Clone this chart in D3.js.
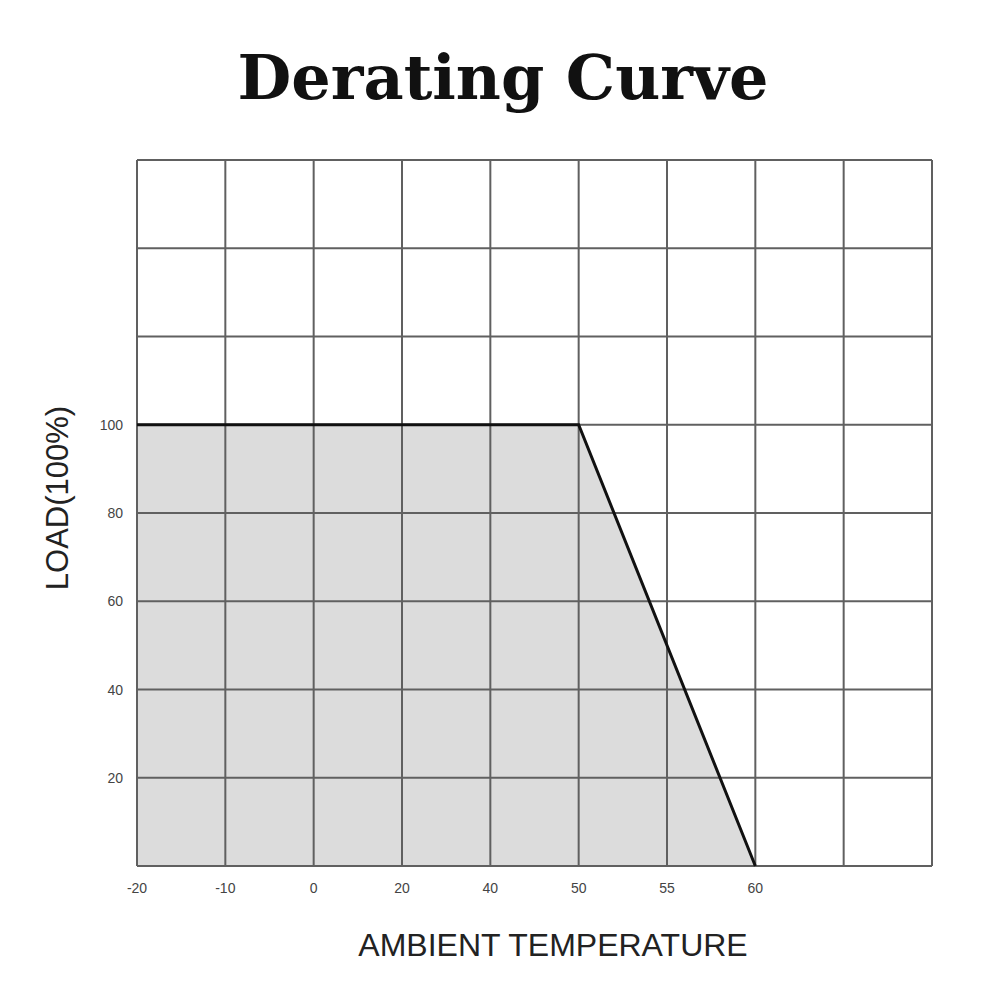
<!DOCTYPE html>
<html><head><meta charset="utf-8">
<script src="https://cdn.jsdelivr.net/npm/d3@7"></script>
<style>body{margin:0;background:#fff}</style>
</head><body>
<svg id="c" width="1000" height="1000"></svg>
<script>
const xTickLabels = ["-20","-10","0","20","40","50","55","60"];
const xGridCount = 10;
const yTicks = [20,40,60,80,100];
const yMax = 160;
const curveTemp = ["-20","50","60"];
const curveLoad = [100,100,0];

const svg = d3.select("#c");
const x = d3.scaleLinear().domain([0, xGridCount-1]).range([137, 932]);
const y = d3.scaleLinear().domain([0, yMax]).range([866, 160]);
const xi = t => x(xTickLabels.indexOf(t));

const pts = curveTemp.map((t,i)=>({t, v:curveLoad[i]}));
svg.append("path").datum(pts)
  .attr("d", d3.area().x(d=>xi(d.t)).y0(y(0)).y1(d=>y(d.v)))
  .attr("fill","#dcdcdc");

const grid = svg.append("g").attr("stroke","#606060").attr("stroke-width",2);
grid.selectAll("line.v").data(d3.range(xGridCount)).join("line")
  .attr("x1",d=>x(d)).attr("x2",d=>x(d)).attr("y1",y(0)).attr("y2",y(yMax));
grid.selectAll("line.h").data(d3.range(0,yMax+1,20)).join("line")
  .attr("y1",d=>y(d)).attr("y2",d=>y(d)).attr("x1",x(0)).attr("x2",x(xGridCount-1));

svg.append("path").datum(pts)
  .attr("d", d3.line().x(d=>xi(d.t)).y(d=>y(d.v)))
  .attr("fill","none").attr("stroke","#111").attr("stroke-width",3);

svg.append("g").selectAll("text").data(xTickLabels).join("text")
  .attr("x",(d,i)=>x(i)).attr("y",893).attr("text-anchor","middle")
  .attr("font-family","Liberation Sans, Arial, sans-serif").attr("font-size",14).attr("fill","#444")
  .text(d=>d);
svg.append("g").selectAll("text").data(yTicks).join("text")
  .attr("x",123).attr("y",d=>y(d)+5).attr("text-anchor","end")
  .attr("font-family","Liberation Sans, Arial, sans-serif").attr("font-size",14).attr("fill","#444")
  .text(d=>d);

svg.append("text").attr("x",503).attr("y",99).attr("text-anchor","middle")
  .attr("font-family","DejaVu Serif, serif").attr("font-weight","bold").attr("font-size",62)
  .attr("fill","#111").text("Derating Curve");

svg.append("text").attr("x",553).attr("y",956).attr("text-anchor","middle")
  .attr("font-family","Liberation Sans, Arial, sans-serif").attr("font-size",32).attr("fill","#222")
  .text("AMBIENT TEMPERATURE");

svg.append("text").attr("transform","translate(68,498) rotate(-90)").attr("text-anchor","middle")
  .attr("font-family","Liberation Sans, Arial, sans-serif").attr("font-size",31).attr("fill","#222")
  .text("LOAD(100%)");
</script>
</body></html>
